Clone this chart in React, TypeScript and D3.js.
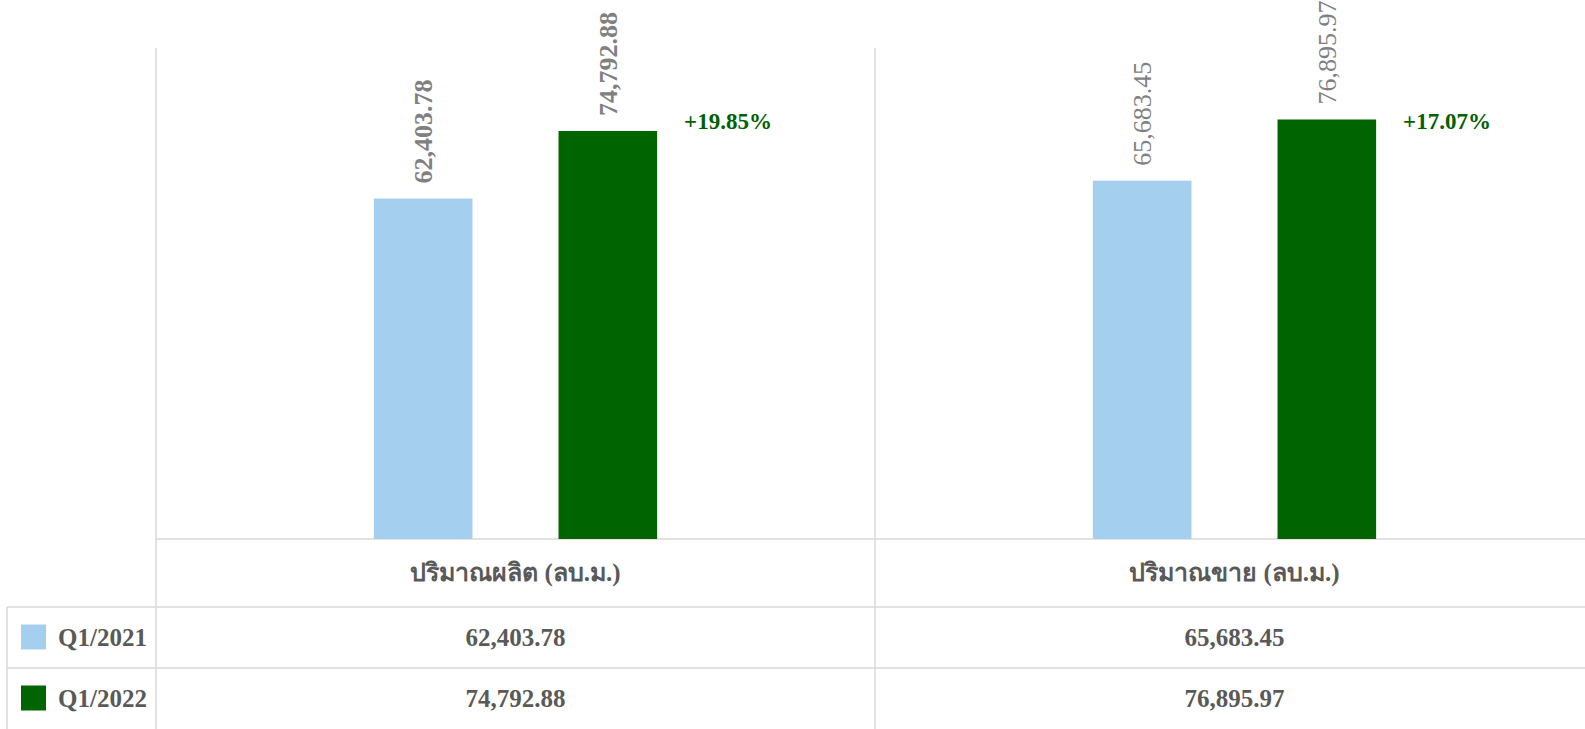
import * as d3 from 'd3'
import React from 'react'

const categories = ['ปริมาณผลิต (ลบ.ม.)', 'ปริมาณขาย (ลบ.ม.)']
const seriesNames = ['Q1/2021', 'Q1/2022']
const q1_2021 = [62403.78, 65683.45]
const q1_2022 = [74792.88, 76895.97]
const seriesColors = ['#A5CFEF', '#006400']
// the second column's bar labels are drawn in regular weight in the original
const labelWeights = ['bold', 'normal']

const W = 1585
const H = 729
const serif = "'Liberation Serif', 'Times New Roman', serif"

const App = () => {
  const plotLeft = 156
  const bandW = 719
  const plotTop = 48
  const baseY = 539
  const headerBottom = 607
  const rowH = 61
  const tableLeft = 7

  const x = d3
    .scaleBand<string>()
    .domain(categories)
    .range([plotLeft, plotLeft + bandW * categories.length])
  const xs = d3
    .scaleBand<string>()
    .domain(seriesNames)
    .range([0, bandW])
    .paddingInner(0.466)
    .paddingOuter(1.18)
  const y = d3.scaleLinear().domain([0, 90000]).range([baseY, plotTop])

  const values = [q1_2021, q1_2022]
  const fmt = d3.format(',.2f')
  const lineColor = '#D9D9D9'

  return (
    <svg width={W} height={H} style={{ position: 'absolute', left: 0, top: 0 }} fontFamily={serif}>
      <rect width={W} height={H} fill="#fff" />

      {/* grid / table lines */}
      <g stroke={lineColor} strokeWidth={1.5}>
        {categories.map((c) => (
          <line key={c} x1={x(c)} x2={x(c)} y1={plotTop} y2={H} />
        ))}
        <line x1={plotLeft} x2={W} y1={baseY} y2={baseY} />
        <line x1={tableLeft} x2={W} y1={headerBottom} y2={headerBottom} />
        <line x1={tableLeft} x2={W} y1={headerBottom + rowH} y2={headerBottom + rowH} />
        <line x1={tableLeft} x2={tableLeft} y1={headerBottom} y2={H} />
      </g>

      {/* bars */}
      {categories.map((c, ci) => (
        <g key={c} transform={`translate(${x(c)},0)`}>
          {seriesNames.map((s, si) => {
            const v = values[si][ci]
            const bx = xs(s)!
            const cx = bx + xs.bandwidth() / 2
            return (
              <g key={s}>
                <rect x={bx} y={y(v)} width={xs.bandwidth()} height={baseY - y(v)} fill={seriesColors[si]} />
                <text
                  transform={`translate(${cx},${y(v) - 15}) rotate(-90)`}
                  dy="0.35em"
                  fontSize={26}
                  fontWeight={labelWeights[ci]}
                  fill="#808080"
                >
                  {fmt(v)}
                </text>
              </g>
            )
          })}
          <text
            x={xs(seriesNames[1])! + xs.bandwidth() + 27}
            y={129}
            fontSize={23}
            fontWeight="bold"
            fill="#006100"
          >
            {`+${((q1_2022[ci] / q1_2021[ci] - 1) * 100).toFixed(2)}%`}
          </text>
        </g>
      ))}

      {/* category header row */}
      {categories.map((c) => (
        <text
          key={c}
          x={x(c)! + bandW / 2}
          y={(baseY + headerBottom) / 2}
          dy="0.3em"
          textAnchor="middle"
          fontSize={25}
          fontWeight="bold"
          fill="#595959"
        >
          {c}
        </text>
      ))}

      {/* data table rows */}
      {seriesNames.map((s, si) => {
        const cy = headerBottom + rowH * si + rowH / 2
        return (
          <g key={s}>
            <rect x={21} y={cy - 13} width={25} height={25} fill={seriesColors[si]} />
            <text x={58} y={cy} dy="0.33em" fontSize={25} fontWeight="bold" fill="#595959">
              {s}
            </text>
            {categories.map((c, ci) => (
              <text
                key={c}
                x={x(c)! + bandW / 2}
                y={cy}
                dy="0.33em"
                textAnchor="middle"
                fontSize={25}
                fontWeight="bold"
                fill="#595959"
              >
                {fmt(values[si][ci])}
              </text>
            ))}
          </g>
        )
      })}
    </svg>
  )
}

export default App
